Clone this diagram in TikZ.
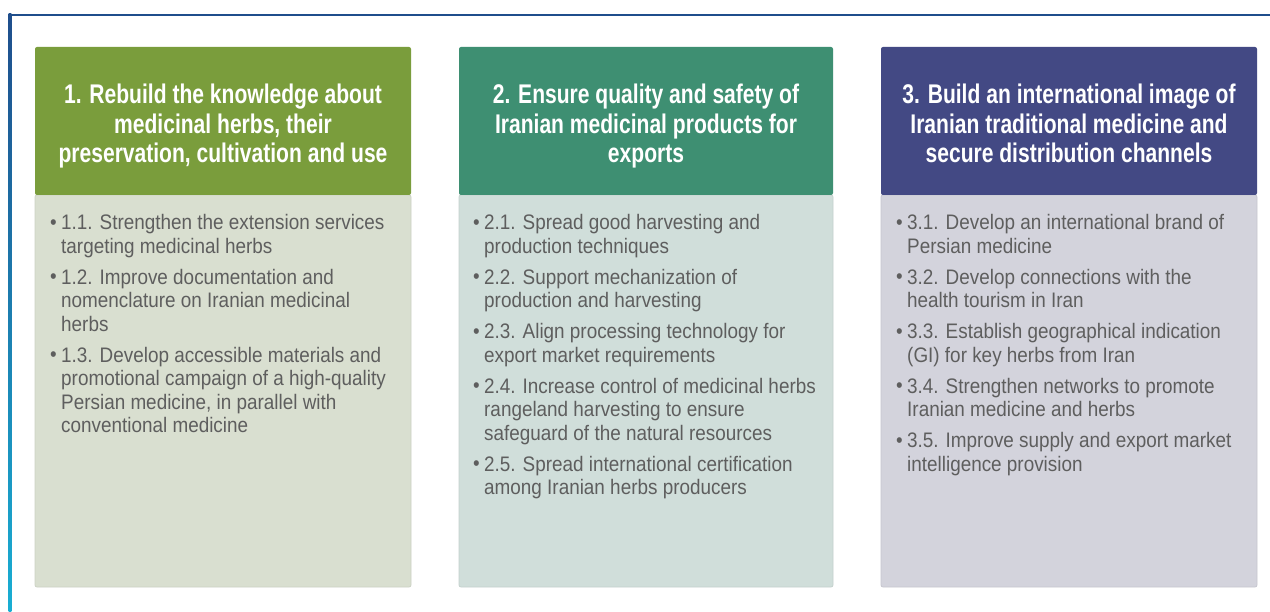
\documentclass[tikz,border=0pt]{standalone}
\usepackage{fontspec}
\setmainfont{Liberation Sans}
\newfontfamily\bodyfont{Liberation Sans}[FakeStretch=0.9]
\newfontfamily\headfont{Liberation Sans Bold}[FakeStretch=0.78]
\definecolor{framecol}{HTML}{1F4E8C}
\definecolor{framecyan}{HTML}{19AED3}
\definecolor{hgreen}{HTML}{7A9D3C}
\definecolor{bgreen}{HTML}{D9DFD0}
\definecolor{hteal}{HTML}{3E8F72}
\definecolor{bteal}{HTML}{D0DEDA}
\definecolor{hnavy}{HTML}{434984}
\definecolor{bnavy}{HTML}{D3D3DC}
\definecolor{txtgray}{HTML}{5E5E5E}
\newcommand{\itm}[1]{{\hangindent=11pt\hangafter=1\noindent\makebox[11pt][l]{\raisebox{0.5pt}{•}}#1\par}\vspace{7.5pt}}
\tikzset{
  headbox/.style={rectangle, rounded corners=2pt, minimum height=148pt, inner sep=0pt},
  headtext/.style={anchor=base, inner sep=0pt, text=white,
    font=\headfont\fontsize{27}{29.5}\selectfont},
  bodybox/.style={rectangle, rounded corners=2pt, minimum height=392pt, inner sep=0pt, line width=0.8pt},
  bodytext/.style={anchor=base west, inner sep=0pt, text=txtgray,
    font=\bodyfont\fontsize{21}{23.5}\selectfont}
}
\begin{document}
\begin{tikzpicture}[x=1pt,y=-1pt]
\useasboundingbox (0,0) rectangle (1270,612);
\fill[white] (0,0) rectangle (1270,612);
% frame
\fill[framecol] (9,13.6) rectangle (1270,16.4);
\shade[top color=framecol, bottom color=framecyan] (8.6,14) rectangle (11.4,612);
% column 1
\node[bodybox, fill=bgreen, draw=bgreen!94!black, minimum width=376pt] (body1) at (223,391) {};
\node[headbox, fill=hgreen, minimum width=376pt] (head1) at (223,121) {};
\node[headtext] (htext1) at (223,104) {\parbox[t]{370pt}{\centering
1. Rebuild the knowledge about\\medicinal herbs, their\\preservation, cultivation and use}};
\node[bodytext] (text1) at (50,230) {\parbox[t]{380pt}{
\itm{1.1. Strengthen the extension services\newline targeting medicinal herbs}
\itm{1.2. Improve documentation and\newline nomenclature on Iranian medicinal\newline herbs}
\itm{1.3. Develop accessible materials and\newline promotional campaign of a high-quality\newline Persian medicine, in parallel with\newline conventional medicine}}};
% column 2
\node[bodybox, fill=bteal, draw=bteal!94!black, minimum width=374pt] (body2) at (646,391) {};
\node[headbox, fill=hteal, minimum width=374pt] (head2) at (646,121) {};
\node[headtext] (htext2) at (646,104) {\parbox[t]{370pt}{\centering
2. Ensure quality and safety of\\Iranian medicinal products for\\exports}};
\node[bodytext] (text2) at (473,230) {\parbox[t]{380pt}{
\itm{2.1. Spread good harvesting and\newline production techniques}
\itm{2.2. Support mechanization of\newline production and harvesting}
\itm{2.3. Align processing technology for\newline export market requirements}
\itm{2.4. Increase control of medicinal herbs\newline rangeland harvesting to ensure\newline safeguard of the natural resources}
\itm{2.5. Spread international certification\newline among Iranian herbs producers}}};
% column 3
\node[bodybox, fill=bnavy, draw=bnavy!94!black, minimum width=376pt] (body3) at (1069,391) {};
\node[headbox, fill=hnavy, minimum width=376pt] (head3) at (1069,121) {};
\node[headtext] (htext3) at (1069,104) {\parbox[t]{370pt}{\centering
3. Build an international image of\\Iranian traditional medicine and\\secure distribution channels}};
\node[bodytext] (text3) at (896,230) {\parbox[t]{380pt}{
\itm{3.1. Develop an international brand of\newline Persian medicine}
\itm{3.2. Develop connections with the\newline health tourism in Iran}
\itm{3.3. Establish geographical indication\newline (GI) for key herbs from Iran}
\itm{3.4. Strengthen networks to promote\newline Iranian medicine and herbs}
\itm{3.5. Improve supply and export market\newline intelligence provision}}};
\end{tikzpicture}
\end{document}
